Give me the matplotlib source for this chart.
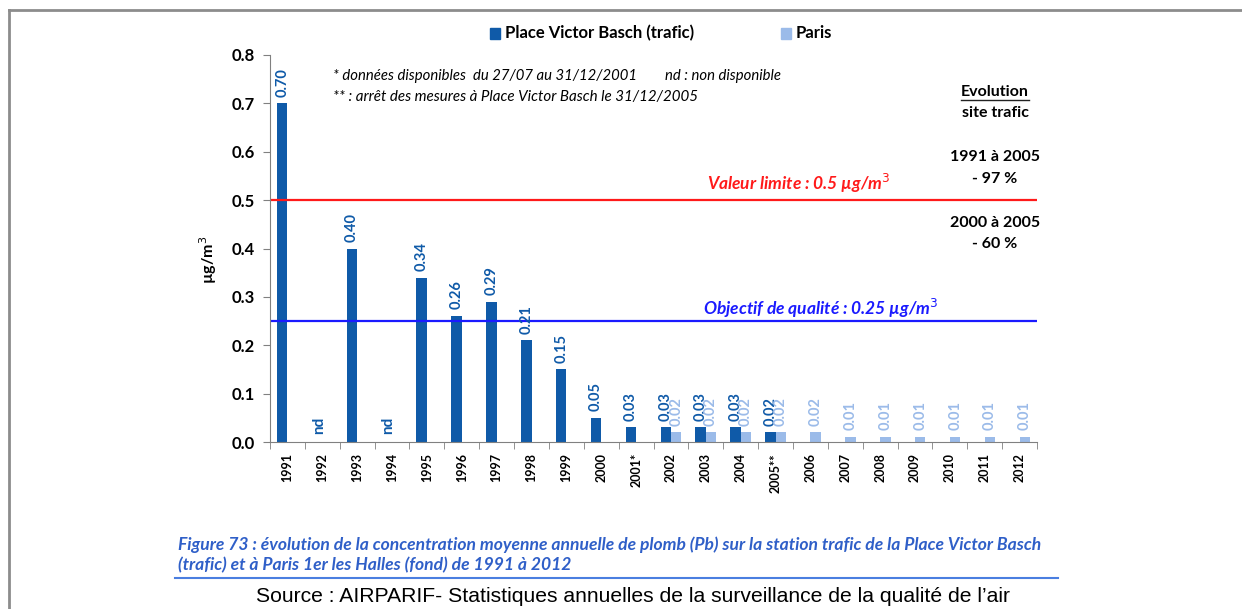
import matplotlib.pyplot as plt
import numpy as np
from matplotlib.lines import Line2D
from matplotlib.patches import Rectangle

years = ["1991", "1992", "1993", "1994", "1995", "1996", "1997", "1998", "1999", "2000",
         "2001*", "2002", "2003", "2004", "2005**", "2006", "2007", "2008", "2009", "2010",
         "2011", "2012"]
# None = nd (non disponible) or no measurement
trafic = [0.70, None, 0.40, None, 0.34, 0.26, 0.29, 0.21, 0.15, 0.05,
          0.03, 0.03, 0.03, 0.03, 0.02, None, None, None, None, None, None, None]
paris = [None, None, None, None, None, None, None, None, None, None,
         None, 0.02, 0.02, 0.02, 0.02, 0.02, 0.01, 0.01, 0.01, 0.01, 0.01, 0.01]
nd_years = ["1992", "1994"]
valeur_limite = 0.5
objectif_qualite = 0.25

dark = "#0f5aa8"
light = "#9bbbe9"
caption_blue = "#2f5fc8"

plt.rcParams["font.family"] = ["Lato", "DejaVu Sans"]

fig = plt.figure(figsize=(12.42, 6.09), dpi=100)
ax = fig.add_axes([0.2174, 0.2742, 0.6176, 0.6355])

x = np.arange(len(years))
w = 0.3

for i, (t, p) in enumerate(zip(trafic, paris)):
    if t is not None:
        ax.bar(x[i] - w / 2, t, width=w, color=dark)
        ax.text(x[i] - w / 2, t + 0.014, f"{t:.2f}", rotation=90, ha="center", va="bottom",
                color=dark, fontsize=10.5, fontweight="bold")
    if p is not None:
        ax.bar(x[i] + w / 2, p, width=w, color=light)
        ax.text(x[i] + w / 2, p + 0.014, f"{p:.2f}", rotation=90, ha="center", va="bottom",
                color=light, fontsize=10.5, fontweight="bold")
    if years[i] in nd_years:
        ax.text(x[i] - 0.1, 0.016, "nd", rotation=90, ha="center", va="bottom",
                color=dark, fontsize=11, fontweight="bold")

ax.axhline(valeur_limite, color="#ff1a1a", lw=1.6)
ax.axhline(objectif_qualite, color="#1a1aff", lw=1.6)

ax.set_xlim(-0.5, len(years) - 0.5)
ax.set_ylim(0, 0.8)
ax.set_yticks(np.arange(0, 0.81, 0.1))
ax.set_yticklabels([f"{v:.1f}" for v in np.arange(0, 0.81, 0.1)], fontsize=12, fontweight="bold")
ax.set_xticks(x)
ax.set_xticklabels(years, rotation=90, fontsize=9, fontweight="bold")
ax.set_xticks(np.arange(-0.5, len(years), 1), minor=True)
ax.tick_params(axis="x", which="major", length=0, pad=8)
ax.tick_params(axis="x", which="minor", length=5, color="#808080")
ax.tick_params(axis="y", length=5, color="#808080", pad=6)
for s in ["top", "right"]:
    ax.spines[s].set_visible(False)
for s in ["left", "bottom"]:
    ax.spines[s].set_color("#808080")
ax.set_ylabel("µg/m$^3$", fontsize=11.5, fontweight="bold")
ax.yaxis.set_label_coords(-0.066, 0.47)

# reference line labels
ax.text(0.570, 0.669, "Valeur limite : 0.5 µg/m$^3$", transform=ax.transAxes, color="#ff1a1a",
        fontsize=12.5, fontweight="bold", style="italic", ha="left", va="center")
ax.text(0.718, 0.344, "Objectif de qualité : 0.25 µg/m$^3$", transform=ax.transAxes, color="#1a1aff",
        fontsize=12.5, fontweight="bold", style="italic", ha="center", va="center")

# notes
fig.text(333 / 1242, 1 - 76 / 609, "* données disponibles  du 27/07 au 31/12/2001        nd : non disponible",
         fontsize=10.7, style="italic", va="center")
fig.text(333 / 1242, 1 - 97 / 609, "** : arrêt des mesures à Place Victor Basch le 31/12/2005",
         fontsize=10.9, style="italic", va="center")

# evolution block
cx = 995 / 1242
fig.text(cx, 1 - 92 / 609, "Evolution", fontsize=11.5, fontweight="bold", ha="center", va="center")
fig.add_artist(Line2D([961 / 1242, 1029 / 1242], [1 - 100 / 609] * 2, color="#222222", lw=1))
for ypx, txt in [(113, "site trafic"), (157, "1991 à 2005"), (179, "- 97 %"),
                 (223, "2000 à 2005"), (244, "- 60 %")]:
    fig.text(cx, 1 - ypx / 609, txt, fontsize=11.5, fontweight="bold", ha="center", va="center")

# legend
fig.add_artist(Rectangle((490 / 1242, 1 - 39 / 609), 10 / 1242, 11 / 609, color=dark))
fig.text(505 / 1242, 1 - 33 / 609, "Place Victor Basch (trafic)", fontsize=12,
         fontweight="bold", va="center")
fig.add_artist(Rectangle((781 / 1242, 1 - 39 / 609), 10 / 1242, 11 / 609, color=light))
fig.text(796 / 1242, 1 - 33 / 609, "Paris", fontsize=12, fontweight="bold", va="center")

# caption
fig.text(178 / 1242, 1 - 545 / 609,
         "Figure 73 : évolution de la concentration moyenne annuelle de plomb (Pb) sur la station trafic de la Place Victor Basch",
         fontsize=12.6, fontweight="bold", style="italic", color=caption_blue, va="center")
fig.text(178 / 1242, 1 - 565 / 609,
         "(trafic) et à Paris 1er les Halles (fond) de 1991 à 2012",
         fontsize=12.6, fontweight="bold", style="italic", color=caption_blue, va="center")
fig.add_artist(Line2D([175 / 1242, 1058 / 1242], [1 - 578 / 609] * 2, color="#4a7ee0", lw=1.5))
fig.text(633 / 1242, 1 - 597 / 609,
         "Source : AIRPARIF- Statistiques annuelles de la surveillance de la qualité de l\u2019air",
         fontsize=15.2, family="Liberation Sans", ha="center", va="center")

# outer frame (top and left edges)
fig.add_artist(Line2D([9 / 1242, 1], [1 - 10 / 609] * 2, color="#8c8c8c", lw=2))
fig.add_artist(Line2D([9 / 1242] * 2, [0, 1 - 10 / 609], color="#8c8c8c", lw=2))

fig.savefig("out.png", dpi=100)
